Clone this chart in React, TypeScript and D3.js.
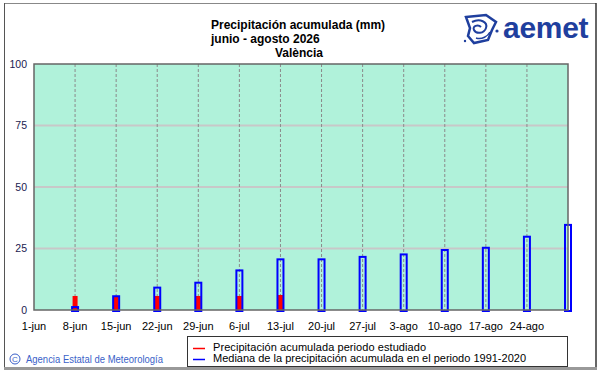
import React from "react";
import * as d3 from "d3";

const titleLines = ["Precipitación acumulada (mm)", "junio - agosto 2026", "València"];
const tickLabels = ["1-jun", "8-jun", "15-jun", "22-jun", "29-jun", "6-jul", "13-jul", "20-jul", "27-jul", "3-ago", "10-ago", "17-ago", "24-ago"];
const tickDays = [0, 7, 14, 21, 28, 35, 42, 49, 56, 63, 70, 77, 84];
const barDays = [7, 14, 21, 28, 35, 42, 49, 56, 63, 70, 77, 84, 91];
const medianValues = [1.6, 6.0, 9.5, 11.5, 16.5, 21.0, 21.0, 22.0, 23.0, 24.8, 25.7, 30.2, 35.0];
const observedValues: (number | null)[] = [5.7, 5.7, 5.7, 5.7, 5.7, 6.1, null, null, null, null, null, null, null];
const yTicks = [0, 25, 50, 75, 100];
const legendLabels = [
  "Precipitación acumulada periodo estudiado",
  "Mediana de la precipitación acumulada en el periodo 1991-2020",
];
const footer = "Agencia Estatal de Meteorología";

const W = 601;
const H = 374;
const left = 34;
const right = 568;
const top = 64;
const bottom = 310;

export default function App() {
  const x = d3.scaleLinear().domain([0, 91]).range([left, right]);
  const y = d3.scaleLinear().domain([0, 100]).range([bottom, top]);
  const font = "'Liberation Sans', Arial, sans-serif";

  return (
    <svg width={W} height={H} style={{ position: "absolute", left: 0, top: 0, background: "#fff" }} fontFamily={font}>
      {/* outer frame */}
      <rect x={0} y={0} width={W} height={H} fill="#fff" />
      <line x1={4} y1={3.5} x2={596} y2={3.5} stroke="#888" strokeWidth={1} />
      <line x1={4.5} y1={3} x2={4.5} y2={368} stroke="#555" strokeWidth={1} />
      <line x1={596} y1={3} x2={596} y2={369} stroke="#333" strokeWidth={1.5} />
      <line x1={4} y1={368.5} x2={597} y2={368.5} stroke="#999" strokeWidth={3} />

      {/* title */}
      <g fontWeight="bold" fontSize={12} fill="#000">
        <text x={211} y={29}>{titleLines[0]}</text>
        <text x={211} y={42.5}>{titleLines[1]}</text>
        <text x={299} y={57} textAnchor="middle">{titleLines[2]}</text>
      </g>

      {/* logo */}
      <g fill="#1f3f9e" stroke="none">
        <path d="M466,17 L486,15 L496,22 L492,30 L488,40 L474,43 L468,36 L470,28 Z" fill="none" stroke="#1f3f9e" strokeWidth={2.5} />
        <path d="M472,22 C480,18 488,22 486,28 C484,34 476,34 474,30 C472,26 478,24 481,27" fill="none" stroke="#1f3f9e" strokeWidth={2} />
        <path d="M476,38 C482,40 488,36 490,32" fill="none" stroke="#1f3f9e" strokeWidth={1.5} />
        <circle cx={497} cy={31} r={1.6} />
        <circle cx={465} cy={41} r={1.2} />
        <text x={503} y={37.5} fontSize={30} fontWeight="bold" letterSpacing={-0.3}>aemet</text>
      </g>

      {/* plot background */}
      <rect x={left} y={top} width={right - left} height={bottom - top} fill="#b0f2da" />

      {/* horizontal grid */}
      {yTicks.filter((t) => t > 0 && t < 100).map((t) => (
        <line key={t} x1={left} x2={right} y1={y(t)} y2={y(t)} stroke="#c8c8c8" strokeWidth={2} />
      ))}
      {/* vertical dashed grid */}
      {tickDays.filter((d) => d > 0).map((d) => (
        <line key={d} x1={x(d)} x2={x(d)} y1={top} y2={bottom} stroke="#8a8a8a" strokeWidth={1} strokeDasharray="3,2" />
      ))}

      {/* observed bars */}
      {barDays.map((d, i) => {
        const v = observedValues[i];
        if (v == null) return null;
        return <rect key={"o" + d} x={x(d) - 2.5} y={y(v)} width={5} height={y(0) - y(v)} fill="#ff0000" />;
      })}
      {/* median bars (outlined) */}
      {barDays.map((d, i) => {
        const v = medianValues[i];
        return (
          <rect key={"m" + d} x={x(d) - 3} y={y(v) + 1} width={6} height={y(0) - y(v)} fill="none" stroke="#0000ff" strokeWidth={2} />
        );
      })}

      {/* plot frame */}
      <rect x={left} y={top} width={right - left} height={bottom - top} fill="none" stroke="#666" strokeWidth={1.5} />

      {/* y labels */}
      {yTicks.map((t) => (
        <text key={t} x={27} y={y(t)} dy="0.35em" textAnchor="end" fontSize={10.5} fill="#1a1a50">{t}</text>
      ))}
      {/* x labels */}
      {tickDays.map((d, i) => (
        <text key={d} x={x(d)} y={329.5} textAnchor="middle" fontSize={11} fill="#000">{tickLabels[i]}</text>
      ))}

      {/* legend */}
      <rect x={187.5} y={336.5} width={380} height={30} fill="#fff" stroke="#333" strokeWidth={1} />
      <line x1={193} x2={205} y1={348.5} y2={348.5} stroke="#ff0000" strokeWidth={1.5} />
      <line x1={193} x2={205} y1={359.5} y2={359.5} stroke="#0000ff" strokeWidth={1.5} />
      <text x={213} y={351} fontSize={11} fill="#000" textLength={213} lengthAdjust="spacing">{legendLabels[0]}</text>
      <text x={213} y={362} fontSize={11} fill="#000" textLength={313} lengthAdjust="spacing">{legendLabels[1]}</text>

      {/* footer */}
      <circle cx={15} cy={359} r={5} fill="none" stroke="#3a5fc8" strokeWidth={1} />
      <text x={15} y={362} textAnchor="middle" fontSize={8} fill="#3a5fc8">C</text>
      <text x={26} y={363} fontSize={10} fill="#3a5fc8" textLength={137} lengthAdjust="spacingAndGlyphs">{footer}</text>
    </svg>
  );
}
